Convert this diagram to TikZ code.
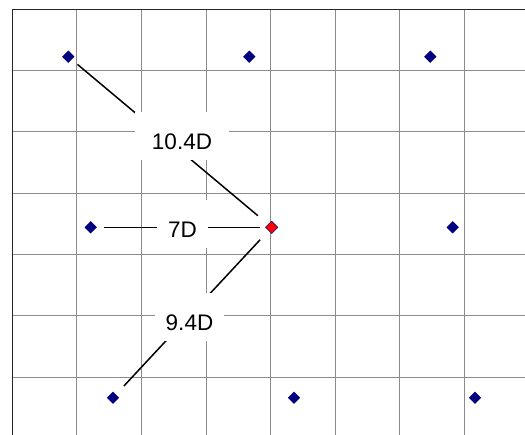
\documentclass[tikz,border=0pt]{standalone}
\usepackage{fontspec}
\setmainfont{Liberation Sans}
\usetikzlibrary{shapes.geometric}
\definecolor{navyblue}{RGB}{0,0,128}
\begin{document}
\begin{tikzpicture}[x=1pt,y=-1pt,
  gridline/.style={draw=black!45,line width=0.9pt},
  frameline/.style={draw=black!85,line width=1pt},
  pt/.style={diamond,fill=navyblue,inner sep=0pt,minimum size=12.5pt},
  ptred/.style={pt,fill=red,draw=navyblue,line width=0.5pt},
  conn/.style={draw=black,line width=1.5pt},
  lbl/.style={anchor=base,fill=white,inner ysep=0pt,inner xsep=11pt,
    text height=37.5pt,text depth=10pt,font=\fontsize{22.5}{27}\selectfont}]
\useasboundingbox (0,0) rectangle (525,435);
% grid
\foreach \x in {76.7,141.4,206,270.6,335.2,399.8,464.4}
  \draw[gridline] (\x,9.3) -- (\x,435);
\foreach \y in {70.6,131.9,193.2,254.5,315.8,377.1}
  \draw[gridline] (12.3,\y) -- (525,\y);
\draw[frameline] (12.3,435) -- (12.3,9.3) -- (525,9.3);
% points
\node[pt] (p11) at (68.3,56.7) {};
\node[pt] (p12) at (249.3,56.7) {};
\node[pt] (p13) at (430.3,56.7) {};
\node[pt] (p21) at (90.7,227.3) {};
\node[ptred] (p22) at (271.7,227.3) {};
\node[pt] (p23) at (452.7,227.3) {};
\node[pt] (p31) at (113,397.7) {};
\node[pt] (p32) at (294,397.7) {};
\node[pt] (p33) at (475,397.7) {};
% connectors
\draw[conn,shorten <=12pt,shorten >=18pt] (p11.center) -- (p22.center);
\draw[conn,shorten <=13pt,shorten >=12pt] (p21.center) -- (p22.center);
\draw[conn,shorten <=17pt,shorten >=16pt] (p22.center) -- (p31.center);
% labels
\node[lbl,inner xsep=16.5pt] (l1) at (182,150) {10.4D};
\node[lbl] (l2) at (182.5,238) {7D};
\node[lbl] (l3) at (189.5,331) {9.4D};
\end{tikzpicture}
\end{document}
